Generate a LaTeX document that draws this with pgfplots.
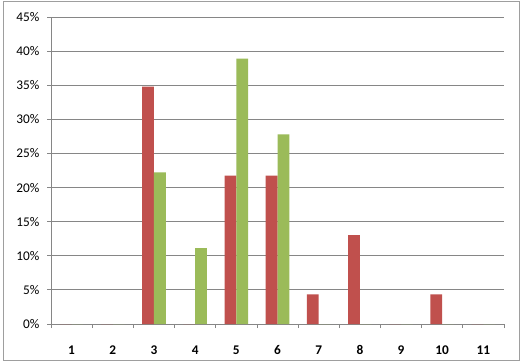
\documentclass[border=0pt]{standalone}
\usepackage{pgfplots}
\pgfplotsset{compat=1.18}
\usepackage{fontspec}
\setmainfont{Carlito}
\definecolor{cred}{HTML}{C0504D}
\definecolor{cgreen}{HTML}{9BBB59}
\definecolor{cgrid}{HTML}{868686}
\begin{document}
\begin{tikzpicture}[x=1bp,y=1bp]
\fill[white] (0,0) rectangle (521,362);
\draw[cgrid!80, line width=1bp] (3.5,1.5) rectangle (519,360);
\begin{axis}[
  at={(51bp,38bp)}, anchor=south west,
  scale only axis, width=453bp, height=307bp,
  ybar=0pt, bar width=11.8bp,
  xmin=0.5, xmax=11.5, ymin=0, ymax=45,
  axis x line*=bottom, axis y line*=left,
  axis line style={cgrid, line width=0.8bp},
  tick align=outside,
  xtick={0.5,1.5,...,11.5}, xticklabels={,,,,,,,,,,,,},
  extra x ticks={1,2,3,4,5,6,7,8,9,10,11},
  extra x tick labels={1,2,3,4,5,6,7,8,9,10,11},
  extra x tick style={major tick length=0pt, tick label style={font=\fontsize{13.3bp}{16bp}\selectfont\bfseries, yshift=-18bp}},
  major tick length=4bp,
  tick style={cgrid, line width=0.8bp},
  ytick={0,5,...,45},
  ymajorgrids, grid style={cgrid, line width=0.9bp},
  yticklabel={\pgfmathprintnumber{\tick}\%},
  y tick label style={font=\fontsize{13.3bp}{16bp}\selectfont, xshift=-4bp},
  /pgf/number format/assume math mode=true,
]
\addplot[fill=cred, draw=none] coordinates {(1,0) (2,0) (3,34.78) (4,0) (5,21.74) (6,21.74) (7,4.35) (8,13.04) (9,0) (10,4.35) (11,0)};
\addplot[fill=cgreen, draw=none] coordinates {(1,0) (2,0) (3,22.22) (4,11.11) (5,38.89) (6,27.78) (7,0) (8,0) (9,0) (10,0) (11,0)};
\end{axis}
\end{tikzpicture}
\end{document}
